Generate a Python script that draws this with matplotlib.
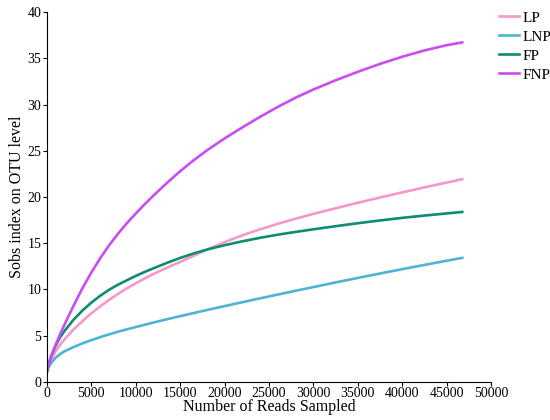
import matplotlib
matplotlib.use('Agg')
import matplotlib.pyplot as plt

plt.rcParams['font.family'] = ['Liberation Serif', 'DejaVu Serif']

# reads sampled (x) and Sobs values per group
reads = [0, 200, 500, 1000, 1500, 2000, 3000, 4000, 5000, 6000, 7000, 8000,
         9000, 10000, 11000, 12000, 13500, 15000, 16500, 18000, 20000, 22000,
         24000, 26000, 28000, 30000, 32500, 35000, 37500, 40000, 42500, 45000,
         46750]

lp = [1.0, 1.7, 2.4, 3.3, 4.0, 4.6, 5.65, 6.55, 7.4, 8.15, 8.85, 9.5,
      10.1, 10.65, 11.17, 11.67, 12.33, 12.97, 13.63, 14.3, 15.1, 15.85,
      16.5, 17.1, 17.65, 18.17, 18.78, 19.37, 19.94, 20.5, 21.04, 21.56,
      21.92]
lnp = [1.0, 1.55, 2.05, 2.6, 3.0, 3.3, 3.75, 4.15, 4.5, 4.83, 5.13, 5.41,
       5.67, 5.92, 6.17, 6.41, 6.76, 7.1, 7.43, 7.76, 8.19, 8.61,
       9.03, 9.44, 9.85, 10.25, 10.75, 11.24, 11.72, 12.19, 12.65, 13.1,
       13.41]
fp = [1.0, 1.9, 2.8, 3.9, 4.8, 5.5, 6.7, 7.7, 8.55, 9.3, 9.95, 10.5,
      10.98, 11.45, 11.88, 12.28, 12.86, 13.4, 13.88, 14.3, 14.78, 15.2,
      15.58, 15.92, 16.22, 16.5, 16.84, 17.16, 17.46, 17.74, 17.99, 18.22,
      18.38]
fnp = [1.0, 1.9, 2.8, 4.0, 5.15, 6.2, 8.2, 10.1, 11.8, 13.35, 14.75, 16.0,
       17.15, 18.2, 19.2, 20.15, 21.5, 22.78, 23.95, 25.03, 26.33, 27.53,
       28.67, 29.75, 30.75, 31.63, 32.63, 33.55, 34.4, 35.18, 35.86, 36.43,
       36.73]

names = ['LP', 'LNP', 'FP', 'FNP']
colors = ['#f598c9', '#4db5d2', '#0e8c6f', '#c94df0']
series = [lp, lnp, fp, fnp]

fig = plt.figure(figsize=(5.5, 4.2), dpi=100)
ax = fig.add_axes([0.085, 0.091, 0.808, 0.88])

for name, col, vals in zip(names, colors, series):
    ax.plot(reads, vals, color=col, lw=1.9, label=name,
            solid_joinstyle='round')

ax.set_xlim(0, 50000)
ax.set_ylim(0, 40)
ax.set_xticks(range(0, 50001, 5000))
ax.set_yticks(range(0, 41, 5))
ax.spines['top'].set_visible(False)
ax.spines['right'].set_visible(False)
ax.tick_params(labelsize=10, length=3, pad=1)
ax.set_xlabel('Number of Reads Sampled', fontsize=11.5, labelpad=-1)
ax.set_ylabel('Sobs index on OTU level', fontsize=11.5, labelpad=2)

ax.legend(loc='upper left', bbox_to_anchor=(1.005, 1.02), frameon=False,
          fontsize=11, handlelength=1.3, handletextpad=0.2, labelspacing=0.35,
          borderaxespad=0)

fig.savefig('out.png', dpi=100)
